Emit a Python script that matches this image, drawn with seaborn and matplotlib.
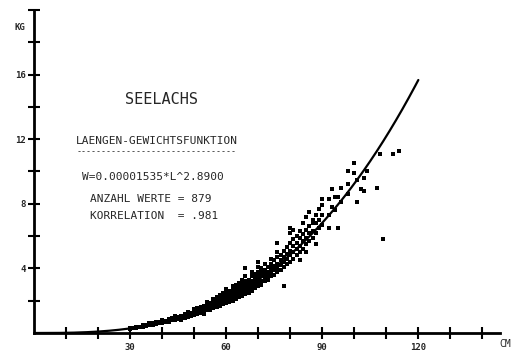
import numpy as np
import pandas as pd
import matplotlib
matplotlib.use("Agg")
import matplotlib.pyplot as plt
import seaborn as sns

# ---- data ----
fit_coef = 0.00001535
fit_exp = 2.89
curve_length = np.linspace(0, 120, 241)

length_cm = [
    30, 30, 31, 32, 32, 33, 34, 34, 35, 35, 36, 36, 36, 37, 37, 38, 38, 38, 39, 39,
    40, 40, 40, 41, 41, 42, 42, 42, 43, 43, 43, 44, 44, 44, 44, 45, 45, 45,
    46, 46, 46, 46, 47, 47, 47, 48, 48, 48, 48, 49, 49, 49,
    50, 50, 50, 50, 50, 51, 51, 51, 51, 52, 52, 52, 52, 53, 53, 53, 53, 53,
    54, 54, 54, 54, 54, 55, 55, 55, 55, 56, 56, 56, 56, 56, 57, 57, 57, 57, 57,
    58, 58, 58, 58, 58, 59, 59, 59, 59, 59, 60, 60, 60, 60, 60, 60,
    61, 61, 61, 61, 61, 62, 62, 62, 62, 62, 62, 63, 63, 63, 63, 63, 63,
    64, 64, 64, 64, 64, 64, 65, 65, 65, 65, 65, 65, 66, 66, 66, 66, 66, 66, 66,
    67, 67, 67, 67, 67, 68, 68, 68, 68, 68, 68, 69, 69, 69, 69, 69,
    70, 70, 70, 70, 70, 70, 70, 71, 71, 71, 71, 71, 72, 72, 72, 72, 72,
    73, 73, 73, 73, 74, 74, 74, 74, 74, 75, 75, 75, 75, 76, 76, 76, 76, 76, 76,
    77, 77, 77, 77, 78, 78, 78, 78, 78, 79, 79, 79, 79,
    80, 80, 80, 80, 80, 80, 81, 81, 81, 81, 81, 82, 82, 82, 82, 83, 83, 83, 83, 83,
    84, 84, 84, 84, 85, 85, 85, 85, 85, 86, 86, 86, 86, 87, 87, 87, 87, 88, 88, 88, 88,
    89, 89, 89, 90, 90, 90, 90, 92, 92, 92, 93, 93, 94, 94, 95, 95, 96, 96, 98, 98, 98,
    100, 100, 101, 101, 102, 103, 103, 104, 107, 108, 109, 112, 114,
]
weight_kg = [
    0.25, 0.32, 0.30, 0.33, 0.40, 0.38, 0.40, 0.48, 0.45, 0.52, 0.48, 0.55, 0.60, 0.52, 0.60, 0.55, 0.62, 0.70, 0.60, 0.68,
    0.62, 0.70, 0.78, 0.68, 0.75, 0.70, 0.80, 0.88, 0.78, 0.85, 0.92, 0.80, 0.88, 0.95, 1.05, 0.85, 0.95, 1.00,
    0.90, 1.00, 1.08, 0.80, 0.95, 1.05, 1.15, 1.00, 1.10, 1.20, 1.30, 1.05, 1.15, 1.25,
    1.10, 1.20, 1.30, 1.40, 1.50, 1.20, 1.30, 1.40, 1.55, 1.25, 1.35, 1.45, 1.60, 1.30, 1.45, 1.55, 1.70, 1.20,
    1.40, 1.50, 1.60, 1.75, 1.90, 1.45, 1.60, 1.70, 1.85, 1.55, 1.70, 1.80, 1.95, 2.10, 1.60, 1.75, 1.90, 2.05, 2.20,
    1.70, 1.85, 2.00, 2.15, 2.35, 1.80, 1.95, 2.10, 2.25, 2.50, 1.85, 2.00, 2.15, 2.30, 2.45, 2.70,
    1.95, 2.10, 2.25, 2.40, 2.60, 2.00, 2.20, 2.35, 2.50, 2.70, 2.90, 2.10, 2.30, 2.45, 2.60, 2.80, 3.00,
    2.20, 2.40, 2.55, 2.70, 2.90, 3.10, 2.30, 2.50, 2.65, 2.85, 3.05, 3.30, 2.40, 2.60, 2.80, 3.00, 3.20, 3.50, 4.00,
    2.50, 2.70, 2.90, 3.10, 3.30, 2.60, 2.85, 3.05, 3.25, 3.50, 3.80, 2.80, 3.00, 3.20, 3.40, 3.65,
    2.90, 3.10, 3.30, 3.55, 3.80, 4.10, 4.40, 3.00, 3.25, 3.50, 3.75, 4.00, 3.20, 3.40, 3.65, 3.90, 4.30,
    3.30, 3.55, 3.80, 4.10, 3.50, 3.70, 4.00, 4.30, 4.60, 3.60, 3.90, 4.15, 4.50, 3.80, 4.05, 4.30, 4.70, 5.00, 5.60,
    3.90, 4.20, 4.50, 4.85, 4.10, 4.40, 4.70, 5.10, 2.90, 4.30, 4.60, 4.90, 5.30,
    4.40, 4.80, 5.10, 5.60, 6.20, 6.50, 4.60, 5.00, 5.40, 5.80, 6.40, 4.80, 5.20, 5.60, 6.00, 5.00, 5.40, 5.90, 4.50, 6.30,
    5.20, 5.70, 6.10, 6.80, 5.50, 5.90, 6.40, 7.20, 5.00, 5.70, 6.20, 6.60, 7.50, 5.90, 6.30, 6.80, 7.00, 6.20, 6.80, 7.30, 5.50,
    6.50, 7.00, 7.70, 6.70, 7.30, 7.90, 8.30, 7.30, 8.30, 6.50, 8.90, 7.80, 7.60, 8.40, 6.50, 8.40, 8.10, 9.00, 8.60, 9.20, 10.0,
    9.90, 10.5, 8.10, 9.50, 8.90, 8.80, 9.60, 10.0, 9.00, 11.1, 5.80, 11.1, 11.3,
]

y_major = [4, 8, 12, 16]
y_minor = [2, 6, 10, 14, 18, 20]
x_major = [30, 60, 90, 120]
x_minor = [10, 20, 40, 50, 70, 80, 100, 110, 130, 140]

pts = pd.DataFrame({"L": length_cm, "W": weight_kg})
curve = pd.DataFrame({"L": curve_length, "W": fit_coef * curve_length ** fit_exp})

sns.set_style("white")
plt.rcParams["font.family"] = ["DejaVu Sans Mono", "DejaVu Sans"]

fig = plt.figure(figsize=(5.13, 3.53), dpi=100)
ax = fig.add_axes([34 / 513, 20 / 353, 466 / 513, 323 / 353])

sns.scatterplot(data=pts, x="L", y="W", ax=ax, marker="s", s=5, color="black",
                linewidth=0, legend=False)
sns.lineplot(data=curve, x="L", y="W", ax=ax, color="black", linewidth=1.6)

ax.set_xlim(0, 145.5)
ax.set_ylim(0, 19.9)
for s in ["top", "right"]:
    ax.spines[s].set_visible(False)
for s in ["left", "bottom"]:
    ax.spines[s].set_linewidth(2)
    ax.spines[s].set_color("black")

ax.set_xticks(x_major)
ax.set_xticks(x_minor, minor=True)
ax.set_yticks(y_major)
ax.set_yticks(y_minor, minor=True)
ax.set_xticklabels([str(v) for v in x_major], fontsize=6.5, fontweight="bold")
ax.set_yticklabels([str(v) for v in y_major], fontsize=6.5, fontweight="bold")
ax.tick_params(which="both", direction="inout", length=8, width=1.5, color="black",
               left=True, bottom=True)
ax.tick_params(axis="x", pad=3)
ax.tick_params(axis="y", pad=2)
ax.set_xlabel("")
ax.set_ylabel("")

fig.text(20 / 513, 1 - 28 / 353, "KG", fontsize=6.5, fontweight="bold", ha="center", va="center")
fig.text(505 / 513, 1 - 344 / 353, "CM", fontsize=7, ha="center", va="center")

fs = 8
fig.text(162 / 513, 1 - 100 / 353, "SEELACHS", fontsize=11, ha="center", va="center")
fig.text(157 / 513, 1 - 141 / 353, "LAENGEN-GEWICHTSFUNKTION", fontsize=fs, ha="center", va="center")
fig.text(157 / 513, 1 - 152 / 353, "-" * 32, fontsize=6, ha="center", va="center")
fig.text(153 / 513, 1 - 177 / 353, "W=0.00001535*L^2.8900", fontsize=fs, ha="center", va="center")
fig.text(90 / 513, 1 - 199 / 353, "ANZAHL WERTE = 879", fontsize=fs, ha="left", va="center")
fig.text(90 / 513, 1 - 216 / 353, "KORRELATION  = .981", fontsize=fs, ha="left", va="center")

fig.savefig("out.png", dpi=100)
